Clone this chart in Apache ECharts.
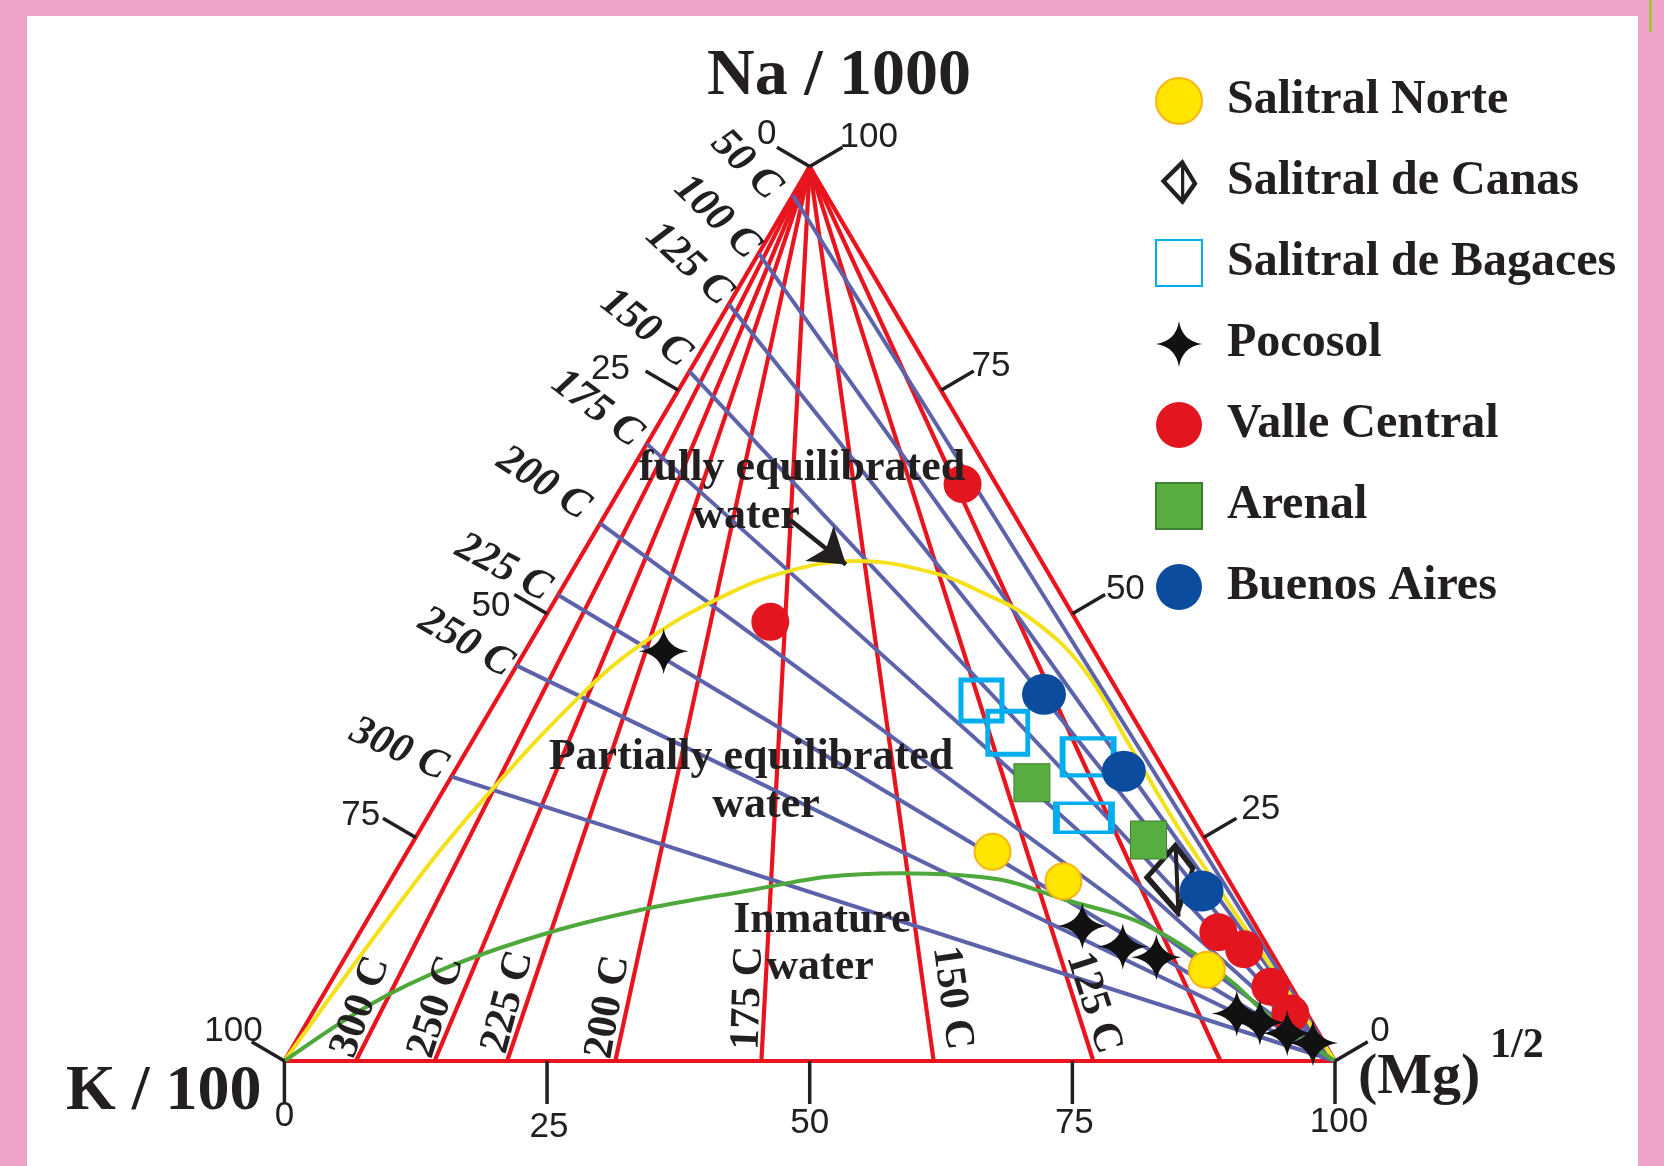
<!DOCTYPE html>
<html>
<head>
<meta charset="utf-8">
<title>Na-K-Mg ternary diagram</title>
<script src="https://cdn.jsdelivr.net/npm/echarts@6.0.0/dist/echarts.min.js"></script>
<style>
  html, body { margin: 0; padding: 0; }
  #frame { position: relative; width: 1664px; height: 1166px; background: #efa3c9; overflow: hidden; }
  #panel { position: absolute; left: 27px; top: 16px; width: 1611px; height: 1150px; background: #ffffff; }
  #edge { position: absolute; left: 1649px; top: 0; width: 3px; height: 32px; background: #a9c23c; }
  #chart { position: absolute; left: 0; top: 0; width: 1664px; height: 1166px; }
</style>
</head>
<body>
<div id="frame"><div id="panel"></div><div id="edge"></div><div id="chart"></div></div>
<script>
// Sample compositions as [Na/1000, K/100, sqrt(Mg)], percent of their sum.
const salitralNorte = [[23.4, 20.9, 55.7], [20.1, 15.8, 64.1], [10.2, 7.1, 82.7]];
const salitralCanas = [[20.3, 5.6, 74.1]];
const salitralBagaces = [[40.3, 13.5, 46.2], [36.7, 12.8, 50.5], [34.0, 6.5, 59.5], [27.2, 10.3, 62.5]];
const pocosol = [[45.8, 41.0, 13.2], [15.1, 16.5, 68.4], [12.8, 13.8, 73.4], [11.6, 11.2, 77.2],
                 [5.3, 6.7, 88.0], [4.3, 5.0, 90.7], [3.1, 3.0, 93.9], [2.0, 1.1, 96.9]];
const valleCentral = [[64.5, 3.2, 32.3], [49.1, 29.2, 21.7], [14.4, 3.9, 81.7], [12.5, 2.4, 85.1],
                      [8.3, 2.0, 89.7], [5.3, 1.6, 93.1]];
const arenal = [[31.1, 13.3, 55.6], [24.7, 5.4, 69.9]];
const buenosAires = [[41.0, 7.2, 51.8], [32.4, 3.9, 63.7], [19.0, 3.2, 77.8]];

// Full-equilibrium curve and the immature-water boundary.
const fullEquilibrium = [[0, 100, 0], [20.3, 77.2, 2.5], [29.2, 66.5, 4.3], [41.5, 50.5, 8.0], [47.2, 41.7, 11.1],
  [51.5, 33.3, 15.2], [54.6, 25.2, 20.2], [55.9, 17.6, 26.5], [54.6, 11.0, 34.4], [52.4, 7.4, 40.2],
  [49.3, 4.1, 46.6], [43.8, 2.0, 54.2], [35.1, 1.9, 63.0], [26.9, 1.9, 71.2], [20.3, 1.5, 78.2],
  [11.9, 0.9, 87.2], [0, 0, 100]];
const immatureLimit = [[0, 100, 0], [6.3, 88.7, 5.0], [10.6, 78.9, 10.5], [14.4, 67.5, 18.1], [17.1, 56.7, 26.2],
  [19.1, 46.1, 34.8], [20.6, 38.0, 41.4], [21.0, 30.9, 48.1], [20.3, 21.8, 57.9], [18.0, 16.6, 65.4],
  [15.8, 11.3, 72.9], [12.8, 8.0, 79.2], [8.7, 5.3, 86.0], [5.3, 3.9, 90.8], [0, 0, 100]];

// K-Na isotherms: end point on the Na-K side, as K percent.
const kNaTemps = ['50 C', '100 C', '125 C', '150 C', '175 C', '200 C', '225 C', '250 C', '300 C'];
const kNaK = [3.2, 9.7, 15.4, 22.9, 31.0, 39.9, 47.9, 55.8, 68.2];
// K-Mg isotherms: foot on the K-Mg side, as Mg percent.
const kMgTemps = ['300 C', '250 C', '225 C', '200 C', '175 C', '150 C', '125 C', '100 C'];
const kMgMg = [6.8, 14.3, 21.2, 31.5, 45.4, 61.8, 77.0, 89.1];

const tickValues = [0, 25, 50, 75, 100];

// ---- styling -------------------------------------------------------------
const TEXT = '#231f20';
const RED = '#e8151e';
const BLUE = '#5c63ab';
const SERIF = '"Liberation Serif", "Times New Roman", serif';
const SANS = '"Liberation Sans Narrow", "Liberation Sans", Arial, sans-serif';

// tick label offsets in pixels from the tick's base, per side (bottom, left, right), in tickValues order
const tickLabelOffsets = [
  [[0, 55], [2, 66], [0, 62], [2, 62], [4, 61]],
  [[-43, -32], [-68, -21], [-56, -7], [-55, -22], [-51, -30]],
  [[45, -30], [57, -28], [53, -24], [50, -24], [59, -29]]
];
// label placement for isotherm captions: [dx, dy, rotation in degrees]
const kNaLabelLayout = [[-47, -30, -45], [-42, -36, -44], [-40, -40, -43], [-44, -43, -38], [-50, -35, -37],
                        [-57, -40, -33], [-55, -27, -28], [-51, -23, -30], [-53, -27, -24]];
const kMgLabelLayout = [[5, -54, 70], [2, -54, 72], [1, -59, 75], [-7, -54, 80], [-13, -63, 88],
                        [18, -63, -82], [0, -58, -72]];
const bagacesBoxes = [[41, 41], [40, 43], [51, 37], [55, 29]];

const STAR = 'path://M0,-12 Q1.6,-1.6 12,0 Q1.6,1.6 0,12 Q-1.6,1.6 -12,0 Q-1.6,-1.6 0,-12 Z';
// outlined kite with a vertical stroke: outer outline, inner outline wound the other way, and the bar
const KITE = 'path://M5,-38 L25,-12 L8,38 L-27,-2 Z ' +
             'M4.46,-29.72 L-19.86,-2.36 L6.74,28.04 L19.66,-9.96 Z ' +
             'M3,-36 L7,-36 L10,37 L6,37 Z';
const KITE_ICON = 'path://M2.5,-25 L18.7,1.8 L2.5,25 L-21.6,-1 Z ' +
                  'M1.75,-17.5 L-15.1,-0.7 L1.75,17.5 L13.1,1.26 Z ' +
                  'M0.75,-23 L4.25,-23 L4.25,23 L0.75,23 Z';

// ternary [Na, K, Mg] -> plot x/y (K corner at 0,0; Mg corner at 100,0; Na apex at 50,100)
function tern(p) {
  const s = p[0] + p[1] + p[2];
  const na = p[0] / s * 100, mg = p[2] / s * 100;
  return [mg + na / 2, na];
}
const apex = tern([100, 0, 0]), kCorner = tern([0, 100, 0]), mgCorner = tern([0, 0, 100]);

const redLines = [[kCorner, apex], [apex, mgCorner], [kCorner, mgCorner]]
  .concat(kMgMg.map(m => [apex, tern([0, 100 - m, m])]));
const blueLines = kNaK.map(k => [tern([100 - k, k, 0]), mgCorner]);

function outwardNormal(P, Q) {
  const dx = Q[0] - P[0], dy = Q[1] - P[1], L = Math.hypot(dx, dy);
  return [dy / L, -dx / L];
}

const tickData = [];
[0, 1, 2].forEach(side => tickValues.forEach((v, i) => tickData.push([side, i])));

function renderTick(params, api) {
  const side = api.value(0), i = api.value(1), v = tickValues[i];
  const A = api.coord(apex), B = api.coord(kCorner), C = api.coord(mgCorner);
  let p, n, len;
  if (side === 0) { p = api.coord(tern([0, 100 - v, v])); n = [0, 1]; len = 43; }
  else if (side === 1) { p = api.coord(tern([100 - v, v, 0])); n = outwardNormal(B, A); len = 38; }
  else { p = api.coord(tern([v, 0, 100 - v])); n = outwardNormal(A, C); len = 38; }
  const off = tickLabelOffsets[side][i];
  return {
    type: 'group',
    children: [
      { type: 'line', shape: { x1: p[0], y1: p[1], x2: p[0] + n[0] * len, y2: p[1] + n[1] * len },
        style: { stroke: TEXT, lineWidth: 3.5 } },
      { type: 'text', x: p[0] + off[0], y: p[1] + off[1],
        style: { text: String(v), fill: TEXT, fontSize: 35, fontFamily: SANS,
                 align: 'center', verticalAlign: 'middle' } }
    ]
  };
}

const tempData = kNaTemps.map((t, i) => [0, i]).concat(kMgLabelLayout.map((t, i) => [1, i]));

function renderTemp(params, api) {
  const set = api.value(0), i = api.value(1);
  let p, lay, text, italic;
  if (set === 0) {
    p = api.coord(tern([100 - kNaK[i], kNaK[i], 0])); lay = kNaLabelLayout[i]; text = kNaTemps[i]; italic = 'italic';
  } else {
    p = api.coord(tern([0, 100 - kMgMg[i], kMgMg[i]])); lay = kMgLabelLayout[i]; text = kMgTemps[i]; italic = 'normal';
  }
  return {
    type: 'text', x: p[0] + lay[0], y: p[1] + lay[1], rotation: lay[2] * Math.PI / 180,
    style: { text: text, fill: TEXT, fontSize: 42, fontWeight: 'bold', fontStyle: italic, fontFamily: SERIF,
             align: 'center', verticalAlign: 'middle' }
  };
}

function pts(arr) { return arr.map(tern); }

function annotation(text, x, y) {
  return { type: 'text', x: x, y: y, z: 50,
    style: { text: text, fill: TEXT, fontSize: 44, fontWeight: 'bold', fontFamily: SERIF,
             align: 'center', verticalAlign: 'middle' } };
}

const chart = echarts.init(document.getElementById('chart'));
chart.setOption({
  animation: false,
  backgroundColor: 'transparent',
  grid: { left: 284.4, top: 166.6, width: 1050.6, height: 894.4 },
  xAxis: { type: 'value', min: 0, max: 100, show: false },
  yAxis: { type: 'value', min: 0, max: 100, show: false },
  legend: {
    orient: 'vertical', left: 1150, top: 71, itemWidth: 46, itemHeight: 46, itemGap: 31,
    selectedMode: false,
    data: ['Salitral Norte', { name: 'Salitral de Canas', icon: KITE_ICON }, 'Salitral de Bagaces', 'Pocosol',
           'Valle Central', 'Arenal', 'Buenos Aires'],
    textStyle: { fontFamily: SERIF, fontWeight: 'bold', fontSize: 48, color: TEXT, lineHeight: 50, padding: [0, 0, 0, 20] }
  },
  graphic: [
    { type: 'text', x: 839, y: 77, z: 50, style: { text: 'Na / 1000', fill: TEXT, fontSize: 66, fontWeight: 'bold',
      fontFamily: SERIF, align: 'center', verticalAlign: 'middle' } },
    { type: 'text', x: 66, y: 1092, z: 50, style: { text: 'K / 100', fill: TEXT, fontSize: 64, fontWeight: 'bold',
      fontFamily: SERIF, align: 'left', verticalAlign: 'middle' } },
    { type: 'text', x: 1358, y: 1078, z: 50, style: { text: '(Mg)', fill: TEXT, fontSize: 58, fontWeight: 'bold',
      fontFamily: SERIF, align: 'left', verticalAlign: 'middle' } },
    { type: 'text', x: 1490, y: 1046, z: 50, style: { text: '1/2', fill: TEXT, fontSize: 42, fontWeight: 'bold',
      fontFamily: SERIF, align: 'left', verticalAlign: 'middle' } },
    annotation('fully equilibrated', 802, 469),
    annotation('water', 746, 517),
    annotation('Partially equilibrated', 751, 758),
    annotation('water', 766, 806),
    annotation('Inmature', 822, 921),
    annotation('water', 820, 968)
  ],
  series: [
    { type: 'lines', coordinateSystem: 'cartesian2d', z: 2, silent: true,
      lineStyle: { color: RED, width: 4.2, opacity: 1 },
      data: redLines.map(c => ({ coords: c })) },
    { type: 'lines', coordinateSystem: 'cartesian2d', z: 3, silent: true,
      lineStyle: { color: BLUE, width: 4, opacity: 1 },
      data: blueLines.map(c => ({ coords: c })) },
    { type: 'line', z: 4, smooth: 0.4, showSymbol: false, silent: true,
      lineStyle: { color: '#f3e21b', width: 4 }, data: pts(fullEquilibrium) },
    { type: 'line', z: 4, smooth: 0.35, showSymbol: false, silent: true,
      lineStyle: { color: '#4ea83b', width: 4 }, data: pts(immatureLimit) },
    { type: 'lines', coordinateSystem: 'cartesian2d', z: 5, silent: true,
      symbol: ['none', 'arrow'], symbolSize: 34,
      lineStyle: { color: TEXT, width: 4.5, opacity: 1 },
      data: [{ coords: [tern([60.5, 21.6, 17.9]), tern([55.5, 18.8, 25.7])] }] },
    { type: 'custom', z: 6, clip: false, silent: true, renderItem: renderTick, data: tickData },
    { type: 'custom', z: 6, clip: false, silent: true, renderItem: renderTemp, data: tempData },
    { name: 'Salitral Norte', type: 'scatter', z: 10, symbol: 'circle', symbolSize: 36,
      itemStyle: { color: '#ffe500', borderColor: '#f8b616', borderWidth: 2, opacity: 1 }, data: pts(salitralNorte) },
    { name: 'Salitral de Canas', type: 'scatter', z: 10, symbol: KITE, symbolSize: [52, 76],
      itemStyle: { color: TEXT, opacity: 1 }, data: pts(salitralCanas) },
    { name: 'Salitral de Bagaces', type: 'scatter', z: 10, symbol: 'rect',
      symbolSize: (val, params) => bagacesBoxes[params.dataIndex],
      itemStyle: { color: 'rgba(0,0,0,0)', borderColor: '#00aeef', borderWidth: 5, opacity: 1 }, data: pts(salitralBagaces) },
    { name: 'Pocosol', type: 'scatter', z: 11, symbol: STAR, symbolSize: [50, 46],
      itemStyle: { color: '#111111', opacity: 1 }, data: pts(pocosol) },
    { name: 'Valle Central', type: 'scatter', z: 10, symbol: 'circle', symbolSize: 38,
      itemStyle: { color: '#e3161f', opacity: 1 }, data: pts(valleCentral) },
    { name: 'Arenal', type: 'scatter', z: 10, symbol: 'rect', symbolSize: [36, 38],
      itemStyle: { color: '#57ad3f', borderColor: '#3f7f35', borderWidth: 1, opacity: 1 }, data: pts(arenal) },
    { name: 'Buenos Aires', type: 'scatter', z: 10, symbol: 'circle', symbolSize: [44, 41],
      itemStyle: { color: '#0b4c9e', opacity: 1 }, data: pts(buenosAires) }
  ]
});
</script>
</body>
</html>
